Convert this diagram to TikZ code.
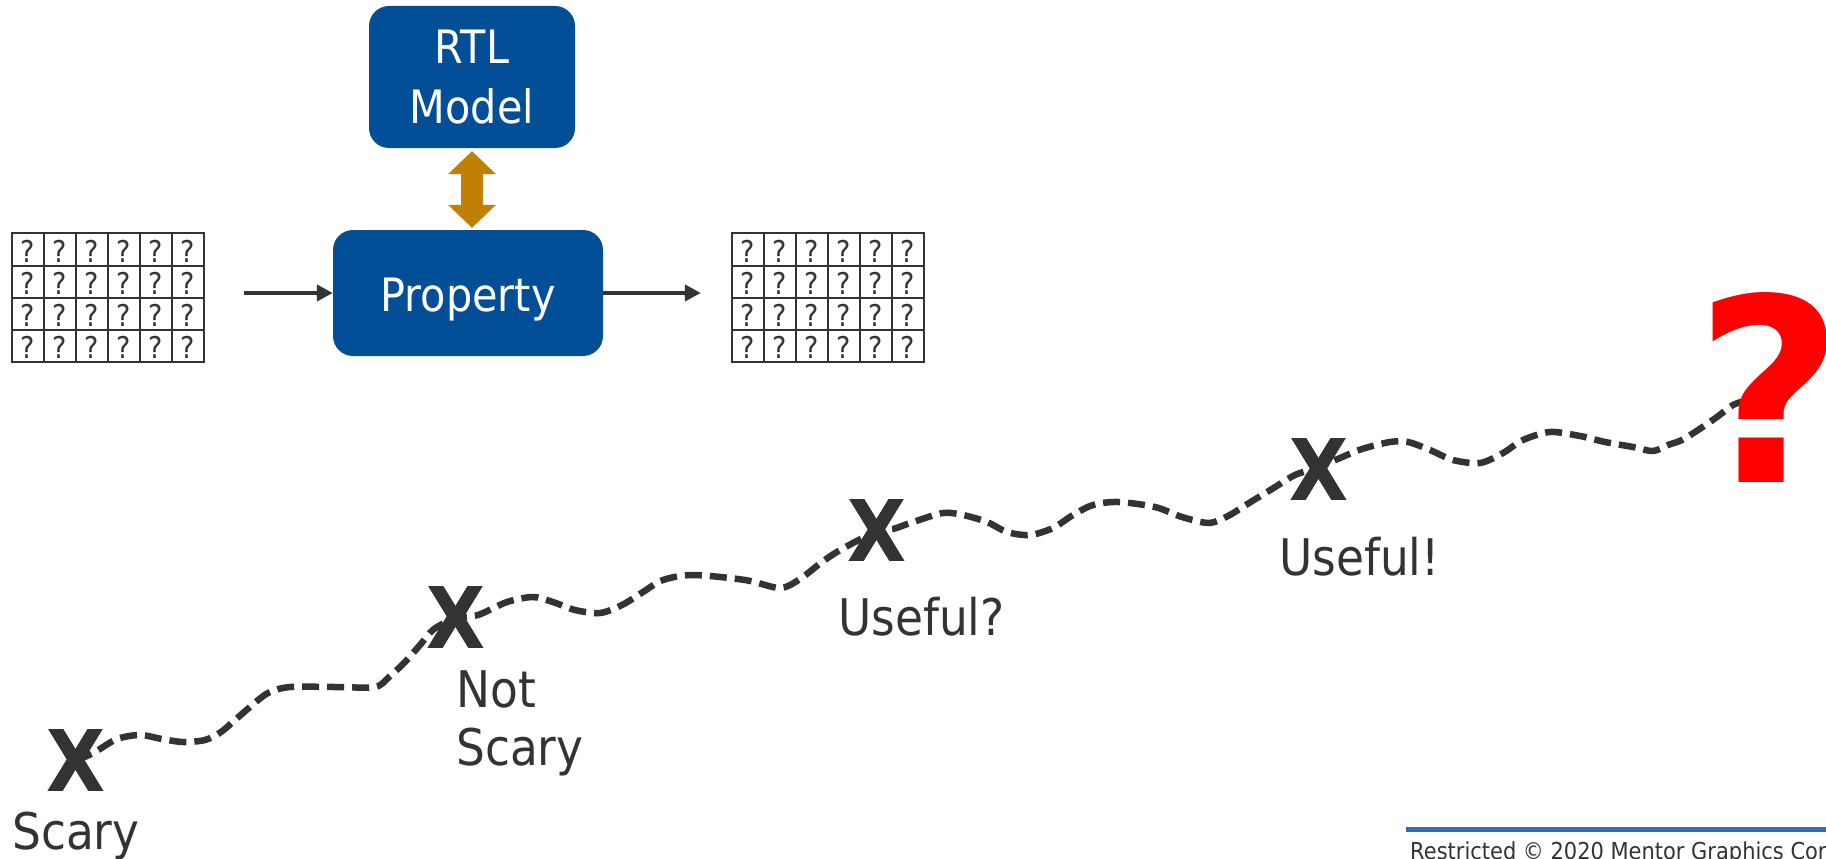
\documentclass[tikz,border=0pt]{standalone}
\usepackage{fontspec}
\setmainfont{DejaVu Sans}[FakeStretch=0.9]
\newfontfamily\qmarkfont{DejaVu Sans}
\usetikzlibrary{arrows.meta,calc}

\definecolor{ink}{RGB}{51,51,51}
\definecolor{boxblue}{RGB}{2,79,152}
\definecolor{linkgold}{RGB}{192,127,5}
\definecolor{footblue}{RGB}{57,106,177}
\definecolor{alertred}{RGB}{255,0,0}

\begin{document}
\begin{tikzpicture}[x=1pt,y=-1pt,
  block/.style={fill=boxblue, rounded corners=20pt, text=white, inner sep=0pt,
                align=center, font=\fontsize{46}{60}\selectfont},
  flow/.style={draw=ink, line width=4pt, -{Triangle[length=16pt,width=16pt]}},
  gridbox/.style={draw=ink, line width=2pt, minimum width=192pt, minimum height=129pt,
                  inner sep=0pt, outer sep=0pt},
  gridline/.style={draw=ink, line width=2pt},
  cellq/.style={text=ink, inner sep=0pt, anchor=base, font=\fontsize{30}{30}\selectfont},
  lbl/.style={text=ink, inner sep=0pt, font=\fontsize{50.5}{58}\selectfont},
  xmark/.style={text=ink, inner sep=0pt, font=\bfseries\fontsize{85}{85}\selectfont},
  trail/.style={draw=ink, line width=6.5pt, dash pattern=on 17pt off 8pt},
]
\useasboundingbox (0,0) rectangle (1826,859);
\fill[white] (0,0) rectangle (1826,859);
\clip (0,0) rectangle (1826,859);

% input and output tables of unknowns
\node[gridbox] (gridL) at (107.5,297.8) {};
\node[gridbox] (gridR) at (827.85,297.8) {};
\foreach \g in {gridL,gridR}{
  \foreach \c in {1,...,5}
    \draw[gridline] ($(\g.north west)+(\c*32,0)$) -- ($(\g.south west)+(\c*32,0)$);
  \foreach \r in {1,2,3}
    \draw[gridline] ($(\g.north west)+(0,\r*32.25)$) -- ($(\g.north east)+(0,\r*32.25)$);
  \foreach \c in {0,...,5}
    \foreach \r in {0,...,3}
      \node[cellq] (\g-q\c\r) at ($(\g.north west)+(\c*32+16,\r*32.25+28.8)$) {?};
}

% model and property blocks
\node[block, minimum width=206pt, minimum height=142pt] (rtl) at (472,77) {RTL\\Model};
\node[block, minimum width=270pt, minimum height=126pt, text height=36pt, text depth=0pt]
  (prop) at (468,293) {Property};

\draw[flow] (gridL.east |- prop.west) ++(40,0) -- (prop.west);
\draw[flow] (prop.east) -- ($(gridR.west |- prop.east)+(-31,0)$);

% two-headed link between model and property
\coordinate (dTop) at ($(rtl.south)+(0,3)$);
\coordinate (dBot) at ($(rtl.south |- prop.north)+(0,-2)$);
\fill[linkgold] (dTop) -- ++(24,23) -- ++(-13,0) -- ($(dBot)+(11,-23)$) -- ++(13,0)
  -- (dBot) -- ++(-24,-23) -- ++(13,0) -- ($(dTop)+(-11,23)$) -- ++(-13,0) -- cycle;

% milestone marks
\node[xmark] (x1) at (76,761) {X};
\node[xmark] (x2) at (456,618) {X};
\node[xmark] (x3) at (877,531) {X};
\node[xmark] (x4) at (1319,470) {X};

% winding dashed trail through the milestones
\draw[trail] plot[smooth, tension=0.5] coordinates {
  (x1.center) (95,752) (117,739) (140,735) (162,739) (183,742) (205,740) (221,732)
  (235,720) (250,707) (268,693) (290,687) (335,687) (375,687) (389,677) (405,662)
  (420,645) (434,629) (x2.center) (478,615) (507,602) (533,597) (553,602) (575,610)
  (600,613) (622,605) (643,592) (663,580) (693,575) (745,580) (780,588) (800,579)
  (822,562) (842,549) (x3.center) (893,529) (913,522) (943,513) (963,515) (987,522)
  (1007,532) (1030,535) (1053,528) (1073,515) (1093,505) (1118,502) (1155,507)
  (1182,517) (1209,523) (1228,516) (1249,503) (1272,489) (1295,475) (1319,467)
  (1340,458) (1362,449) (1390,442) (1408,442) (1430,450) (1453,460) (1480,463)
  (1503,453) (1523,440) (1550,432) (1580,436) (1605,442) (1633,447) (1653,451)
  (1668,445) (1682,440) (1698,430) (1717,417) (1733,405) (1748,400)};

% redraw marks above the trail
\node[xmark] at (x1.center) {X};
\node[xmark] at (x2.center) {X};
\node[xmark] at (x3.center) {X};
\node[xmark] at (x4.center) {X};

% milestone captions
\node[lbl, anchor=base west] (capA) at (12,849) {Scary};
\node[lbl, anchor=west, align=left] (capB) at (456,723.6) {Not\\Scary};
\node[lbl, anchor=base west] (capC) at (838,635) {Useful?};
\node[lbl, anchor=base west] (capD) at (1279,575) {Useful!};

% big open question at the end of the trail
\node[text=alertred, inner sep=0pt, anchor=base west,
      font=\qmarkfont\bfseries\fontsize{256}{256}\selectfont] (qbig) at (1695,482) {?};

% footer rule and notice
\coordinate (ruleL) at (1406,829);
\coordinate (ruleR) at (1826,829);
\draw[footblue, line width=5pt] (ruleL) -- (ruleR);
\node[text=ink, inner sep=0pt, anchor=base west, font=\fontsize{23.3}{27}\selectfont]
  (foot) at (1410,859) {Restricted © 2020 Mentor Graphics Cor};
\end{tikzpicture}
\end{document}
